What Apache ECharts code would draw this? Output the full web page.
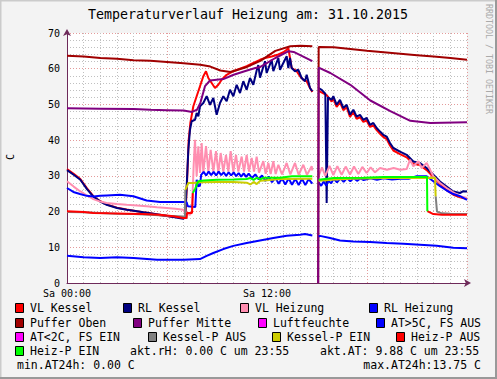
<!DOCTYPE html>
<html><head><meta charset="utf-8">
<script src="https://cdn.jsdelivr.net/npm/echarts@6/dist/echarts.min.js"></script>
<style>html,body{margin:0;padding:0;background:#F3F3F3}#c{width:497px;height:379px}</style>
</head><body><div id="c"></div><script>
const FONT = '"DejaVu Sans Mono", monospace';
const titleText = 'Temperaturverlauf Heizung am: 31.10.2015';
const yTitle = 'C';
const sideText = 'RRDTOOL / TOBI OETIKER';
const xTickLabels = {0: 'Sa 00:00', 12: 'Sa 12:00'};

// [hour, °C]
const vlKessel = [[0,31.9],[0.4,30.6],[0.8,29.1],[1.2,26.5],[1.58,24.3],[2.0,22.9],[2.38,22.0],[3.0,21.1],[3.58,20.6],[4.2,20.1],[4.58,19.8],[5.0,19.5],[5.58,19.0],[6.2,18.6],[6.98,18.3],[7.1,18.5],[7.2,28.0],[7.3,40.0],[7.4,44.8],[7.58,49.5],[7.78,52.3],[7.98,55.1],[8.18,57.9],[8.34,59.3],[8.48,57.4],[8.68,56.0],[8.88,54.6],[9.08,55.5],[9.28,56.9],[9.58,58.3],[9.98,59.3],[10.38,60.0],[10.78,60.7],[11.18,61.6],[11.58,62.5],[11.88,63.0],[12.28,63.4],[12.68,64.0],[12.98,64.6],[13.18,65.3],[13.28,65.8],[13.48,60.2],[13.78,59.3],[13.98,57.9],[14.18,56.9],[14.38,56.5],[14.58,54.6],[14.72,53.5],[14.8,null],[15.1,53.8],[15.58,52.6],[15.88,50.8],[15.98,51.6],[16.18,49.3],[16.38,50.6],[16.58,48.4],[16.78,49.2],[16.98,46.5],[17.18,47.8],[17.38,46.0],[17.58,46.4],[17.78,45.1],[17.98,45.5],[18.18,43.7],[18.38,44.1],[18.58,42.8],[18.78,41.8],[18.98,40.9],[19.18,40.3],[19.38,38.5],[19.58,37.1],[19.98,36.1],[20.38,35.2],[20.78,33.4],[21.18,33.0],[21.58,31.6],[21.98,29.7],[22.38,27.7],[22.78,26.0],[23.18,24.7],[23.58,24.0],[24,23.5]];
const rlKessel = [[0,31.6],[0.4,30.3],[0.8,28.9],[1.2,26.3],[1.58,24.2],[2.0,22.8],[2.38,21.9],[3.0,21.0],[3.58,20.5],[4.2,20.1],[4.58,19.8],[5.0,19.5],[5.58,19.1],[6.2,18.6],[6.98,18.0],[7.08,18.5],[7.18,27.0],[7.28,37.3],[7.38,42.9],[7.48,45.3],[7.68,45.7],[7.78,47.6],[7.88,46.7],[7.98,49.5],[8.18,50.4],[8.38,52.3],[8.58,49.9],[8.78,51.8],[8.98,47.1],[9.18,50.4],[9.38,52.3],[9.58,50.9],[9.78,54.1],[9.98,52.3],[10.18,55.5],[10.38,53.2],[10.58,56.5],[10.78,54.1],[10.98,57.4],[11.18,55.5],[11.38,59.5],[11.48,61.0],[11.58,57.5],[11.88,62.1],[11.98,58.8],[12.28,62.5],[12.38,59.3],[12.68,63.0],[12.78,59.7],[13.18,63.5],[13.28,60.2],[13.38,63.0],[13.48,60.2],[13.68,59.3],[13.88,59.7],[14.08,57.4],[14.28,56.5],[14.38,58.3],[14.58,54.6],[14.72,53.7],[14.8,null],[15.1,54.6],[15.3,54.0],[15.5,53.0],[15.58,22.4],[15.66,52.0],[15.88,51.3],[15.98,52.3],[16.18,49.9],[16.38,51.3],[16.58,49.0],[16.78,49.9],[16.98,47.1],[17.18,48.5],[17.38,46.6],[17.58,47.1],[17.78,45.7],[17.98,46.2],[18.18,44.3],[18.38,44.8],[18.58,43.4],[18.78,42.4],[18.98,41.5],[19.18,41.0],[19.38,39.2],[19.58,37.8],[19.98,36.8],[20.38,35.9],[20.78,34.0],[21.18,33.6],[21.58,32.2],[21.98,30.3],[22.38,28.4],[22.78,27.0],[23.18,25.6],[23.58,25.2],[23.78,25.7],[24,25.6]];
const vlHeizung = [[0,28.5],[0.4,27.0],[0.78,25.7],[1.2,24.5],[1.58,23.5],[2.0,22.8],[2.38,22.4],[3.0,22.1],[3.58,21.9],[4.2,21.7],[4.78,21.5],[5.4,21.2],[5.98,21.0],[6.5,20.8],[6.98,20.5],[7.08,19.6],[7.38,19.1],[7.5,20.0],[7.6,33.0],[7.68,40.1],[7.78,29.9],[7.88,38.3],[7.98,30.8],[8.08,39.2],[8.18,30.8],[8.34,38.3],[8.48,31.2],[8.62,37.3],[8.78,31.2],[8.94,36.9],[9.08,30.8],[9.22,36.4],[9.38,31.2],[9.54,35.9],[9.68,31.2],[9.82,36.9],[9.98,31.2],[10.14,35.9],[10.28,31.2],[10.48,35.4],[10.62,31.2],[10.78,35.9],[10.92,31.2],[11.08,35.0],[11.22,31.2],[11.38,35.4],[11.52,30.9],[11.78,34.1],[11.92,30.6],[12.08,33.6],[12.22,30.5],[12.38,34.1],[12.52,30.5],[12.68,33.1],[12.9,30.4],[13.18,33.6],[13.4,30.4],[13.68,33.6],[13.9,30.3],[14.18,33.1],[14.4,30.3],[14.68,32.7],[14.72,31.5],[14.8,null],[15.1,30.0],[15.3,32.4],[15.5,30.0],[15.75,32.8],[15.98,30.2],[16.22,32.7],[16.48,30.3],[16.72,32.6],[16.98,30.4],[17.22,32.6],[17.48,30.5],[17.72,32.5],[17.98,30.8],[18.22,32.4],[18.48,31.0],[18.78,32.2],[19.2,31.7],[19.6,32.2],[20.0,31.7],[20.38,31.9],[20.58,34.5],[20.78,32.7],[21.08,34.1],[21.28,32.2],[21.58,33.6],[21.98,29.9],[22.38,28.0],[22.78,26.6],[23.18,25.4],[23.58,24.3],[24,23.8]];
const rlHeizung = [[0,26.6],[0.38,25.5],[0.78,24.9],[1.18,24.4],[1.58,24.2],[2.0,24.4],[2.38,24.5],[3.18,24.7],[3.98,24.3],[4.78,23.1],[5.58,22.7],[6.98,22.7],[7.18,22.6],[7.25,21.5],[7.7,21.3],[7.78,28.9],[7.88,27.1],[7.98,27.3],[8.05,30.3],[8.2,31.1],[8.35,30.1],[8.5,31.2],[8.65,30.2],[8.8,31.1],[8.95,30.1],[9.1,31.2],[9.25,30.2],[9.4,31.0],[9.55,30.0],[9.7,31.0],[9.85,30.1],[10.0,31.0],[10.15,29.9],[10.3,30.8],[10.45,29.8],[10.6,30.7],[10.75,29.7],[10.9,30.6],[11.1,29.4],[11.3,30.4],[11.5,29.0],[11.7,30.1],[11.9,28.6],[12.1,29.8],[12.3,28.2],[12.5,29.5],[12.7,27.8],[12.9,29.3],[13.1,27.6],[13.3,29.3],[13.5,27.5],[13.7,29.2],[13.9,27.4],[14.1,29.2],[14.3,27.4],[14.5,29.1],[14.72,27.8],[14.8,null],[15.1,28.2],[15.25,27.2],[15.4,28.4],[15.55,27.3],[15.7,28.6],[15.85,27.9],[16.0,29.2],[16.2,28.2],[16.4,29.3],[16.6,28.3],[16.8,29.4],[17.0,28.5],[17.2,29.4],[17.4,28.6],[17.6,29.3],[17.8,28.8],[18.2,29.3],[18.6,28.9],[19.0,29.3],[19.5,29.0],[20.0,29.2],[20.5,29.2],[20.98,29.9],[21.58,29.9],[21.98,28.5],[22.38,27.1],[22.78,25.9],[23.18,24.9],[23.58,24.3],[24,23.3]];
const pufferOben = [[0,63.6],[1,63.4],[2,63.0],[3,62.8],[4,62.4],[5,62.2],[6,61.9],[7,61.5],[8,61.1],[8.6,60.6],[9.2,59.5],[9.8,59.1],[10.3,59.8],[10.8,60.5],[11.6,62.2],[12.5,65.0],[13.4,66.3],[14.0,66.4],[14.72,66.3],[14.8,null],[15.07,0],[15.1,66.1],[16,66.0],[17,65.5],[18,65.0],[19,64.6],[20,64.2],[21,63.8],[22,63.4],[23,63.0],[24,62.5]];
const pufferMitte = [[0,48.9],[2,48.8],[4,48.7],[5,48.5],[6,48.4],[7,48.3],[7.5,47.9],[7.8,48.5],[8.0,50.4],[8.28,55.1],[8.58,56.7],[9.38,57.1],[10.0,58.3],[10.8,59.5],[11.3,60.2],[11.6,60.5],[12.5,63.0],[13.3,64.9],[13.6,64.7],[14.72,62.1],[14.8,null],[15.07,0],[15.1,60.3],[15.8,58.8],[17.0,55.5],[18.2,51.1],[19.4,48.1],[20.6,45.4],[21.8,44.8],[24,45.0]];
const aussen = [[0,7.6],[1.0,7.2],[2.0,7.0],[3.0,7.2],[4.0,7.0],[5.4,6.5],[7.0,6.5],[7.98,6.7],[8.38,7.6],[8.78,8.4],[9.38,9.5],[9.98,10.4],[10.78,11.2],[11.58,11.9],[12.38,12.6],[13.18,13.2],[13.98,13.5],[14.28,13.7],[14.72,13.3],[14.8,null],[15.1,13.0],[15.18,13.2],[15.78,12.6],[16.38,11.9],[17.18,11.6],[18.18,11.5],[19.18,11.2],[20.18,11.0],[21.18,10.7],[22.18,10.4],[23.18,9.9],[24,9.7]];
const kesselPAus = [[0,19.9],[1,19.8],[2,19.6],[3,19.4],[4,19.3],[5,19.1],[6,18.8],[7.0,18.6],[7.08,18.6],[7.1,26.1],[7.12,null],[22.12,24.3],[22.2,20.0],[22.5,19.5],[23,19.4],[24,19.3]];
const kesselPEin = [[7.1,26.1],[7.28,28.0],[7.58,28.0],[8.0,28.2],[9.0,28.3],[10.0,28.3],[10.78,28.1],[11.0,27.6],[11.2,28.3],[11.38,27.7],[11.6,28.6],[12.0,28.8],[12.78,29.1],[14.72,29.2],[14.8,null],[15.1,28.6],[15.9,28.9],[17.0,29.2],[19.0,29.4],[22.08,29.5],[22.12,24.3]];
const heizPAus = [[0,20.1],[1,19.9],[1.58,19.6],[2.5,19.5],[3.58,19.4],[4.5,19.3],[5.58,19.1],[6.38,18.7],[6.98,18.2],[7.18,18.2],[7.2,19.6],[7.5,19.6],[7.55,25.2],[7.6,null],[21.62,20.1],[21.98,19.3],[22.5,19.1],[23,19.1],[24,19.1]];
const heizPEin = [[7.55,25.2],[7.7,26.5],[7.88,28.5],[8.2,28.7],[9.0,28.9],[10.0,29.0],[10.78,29.1],[11.0,29.4],[11.2,28.9],[11.4,29.5],[11.6,29.0],[11.8,29.5],[12.78,29.5],[13.5,29.9],[14.72,29.9],[14.8,null],[15.1,28.9],[15.6,29.2],[16.0,29.4],[17.78,29.5],[19.0,29.7],[21.6,29.7],[21.62,20.1]];

const legendNames = ['VL Kessel','RL Kessel','VL Heizung','RL Heizung','Puffer Oben','Puffer Mitte','Luftfeuchte','AT>5C, FS AUS','AT<2C, FS EIN','Kessel-P AUS','Kessel-P EIN','Heiz-P AUS','Heiz-P EIN'];
const legendColors = ['#FF0000','#000080','#FF8EB0','#0000FF','#A00000','#800080','#FF00FF','#0000FF','#FF00FF','#808080','#CCCC00','#FF0000','#00FF00'];
const infoTexts = ['akt.rH: 0.00 C um 23:55','akt.AT: 9.88 C um 23:55','min.AT24h: 0.00 C','max.AT24h:13.75 C'];

// drawing order (legend order)
const seriesDefs = [
  ['VL Kessel', vlKessel, '#FF0000'],
  ['RL Kessel', rlKessel, '#000080'],
  ['VL Heizung', vlHeizung, '#FF8EB0'],
  ['RL Heizung', rlHeizung, '#0000FF'],
  ['Puffer Oben', pufferOben, '#A00000'],
  ['Puffer Mitte', pufferMitte, '#800080'],
  ['AT', aussen, '#0000FF'],
  ['Kessel-P AUS', kesselPAus, '#808080'],
  ['Kessel-P EIN', kesselPEin, '#CCCC00'],
  ['Heiz-P AUS', heizPAus, '#FF0000'],
  ['Heiz-P EIN', heizPEin, '#00FF00']
];

// legend layout (positions only)
const legendPos = [[15,308],[123,308],[240,308],[369,308],[15,323],[133,323],[258,323],[376,323],[15,337],[148,337],[272,337],[396,337],[15,351]];
const infoPos = [[130,351,'left'],[320,351,'left'],[17,365,'left'],[481,365,'right']];

const chart = echarts.init(document.getElementById('c'), null, {renderer:'svg', width:497, height:379});

const graphic = [
  {type:'line', shape:{x1:0,y1:0.5,x2:497,y2:0.5}, style:{stroke:'#CBCBCB',lineWidth:2}, silent:true},
  {type:'line', shape:{x1:0.5,y1:0,x2:0.5,y2:379}, style:{stroke:'#CBCBCB',lineWidth:2}, silent:true},
  {type:'line', shape:{x1:0,y1:378,x2:497,y2:378}, style:{stroke:'#999999',lineWidth:2}, silent:true},
  {type:'line', shape:{x1:496,y1:0,x2:496,y2:379}, style:{stroke:'#999999',lineWidth:2}, silent:true},
  {type:'text', x:248, y:14, style:{text:titleText, font:'13.3px '+FONT, fill:'#000', textAlign:'center', textVerticalAlign:'middle'}},
  {type:'text', x:10, y:157, rotation:Math.PI/2, style:{text:yTitle, font:'10px '+FONT, fill:'#000', textAlign:'center', textVerticalAlign:'middle'}},
  {type:'text', x:488.5, y:4, rotation:-Math.PI/2, style:{text:sideText, font:'8.3px '+FONT, fill:'#AAAAAA', textAlign:'left', textVerticalAlign:'middle'}}
];
legendNames.forEach((n,i)=>{
  const [x,y] = legendPos[i];
  graphic.push({type:'rect', shape:{x:x+0.5,y:y-4.5,width:8,height:9}, style:{fill:legendColors[i], stroke:'#000', lineWidth:1}});
  graphic.push({type:'text', x:x+15, y:y, style:{text:n, font:'11.5px '+FONT, fill:'#000', textAlign:'left', textVerticalAlign:'middle'}});
});
infoTexts.forEach((t,i)=>{
  const [x,y,a] = infoPos[i];
  graphic.push({type:'text', x:x, y:y, style:{text:t, font:'11.5px '+FONT, fill:'#000', textAlign:a, textVerticalAlign:'middle'}});
});

chart.setOption({
  animation:false,
  backgroundColor:'#F3F3F3',
  grid:{left:67, top:33, width:400, height:250, show:true, backgroundColor:'#FFFFFF', borderWidth:0},
  xAxis:{type:'value', min:0, max:24, interval:6,
    axisLine:{show:true, lineStyle:{color:'#6E2A5A', width:1}, symbol:['none','arrow'], symbolSize:[6,7], symbolOffset:[0,4]},
    axisTick:{show:false},
    axisLabel:{fontFamily:'DejaVu Sans Mono', fontSize:10, color:'#000', margin:5,
      formatter:v=> xTickLabels[v] !== undefined ? xTickLabels[v] : ''},
    splitLine:{show:true, lineStyle:{color:'#E39A9A', type:[1,2], width:1}},
    minorTick:{show:false, splitNumber:6},
    minorSplitLine:{show:true, lineStyle:{color:'#C0C0C0', type:[1,2], width:1}}
  },
  yAxis:{type:'value', min:0, max:70, interval:10,
    axisLine:{show:true, lineStyle:{color:'#6E2A5A', width:1}, symbol:['none','arrow'], symbolSize:[6,7], symbolOffset:[0,4]},
    axisTick:{show:false},
    axisLabel:{fontFamily:'DejaVu Sans Mono', fontSize:10, color:'#000', margin:7},
    splitLine:{show:true, lineStyle:{color:'#E39A9A', type:[1,2], width:1}},
    minorTick:{show:false, splitNumber:5},
    minorSplitLine:{show:true, lineStyle:{color:'#C0C0C0', type:[1,2], width:1}}
  },
  graphic: graphic,
  series: seriesDefs.map(([name,data,color])=>({
    name, type:'line', data, showSymbol:false, symbol:'none', connectNulls:false,
    lineStyle:{color, width:2}, itemStyle:{color}, silent:true
  }))
});
</script></body></html>
